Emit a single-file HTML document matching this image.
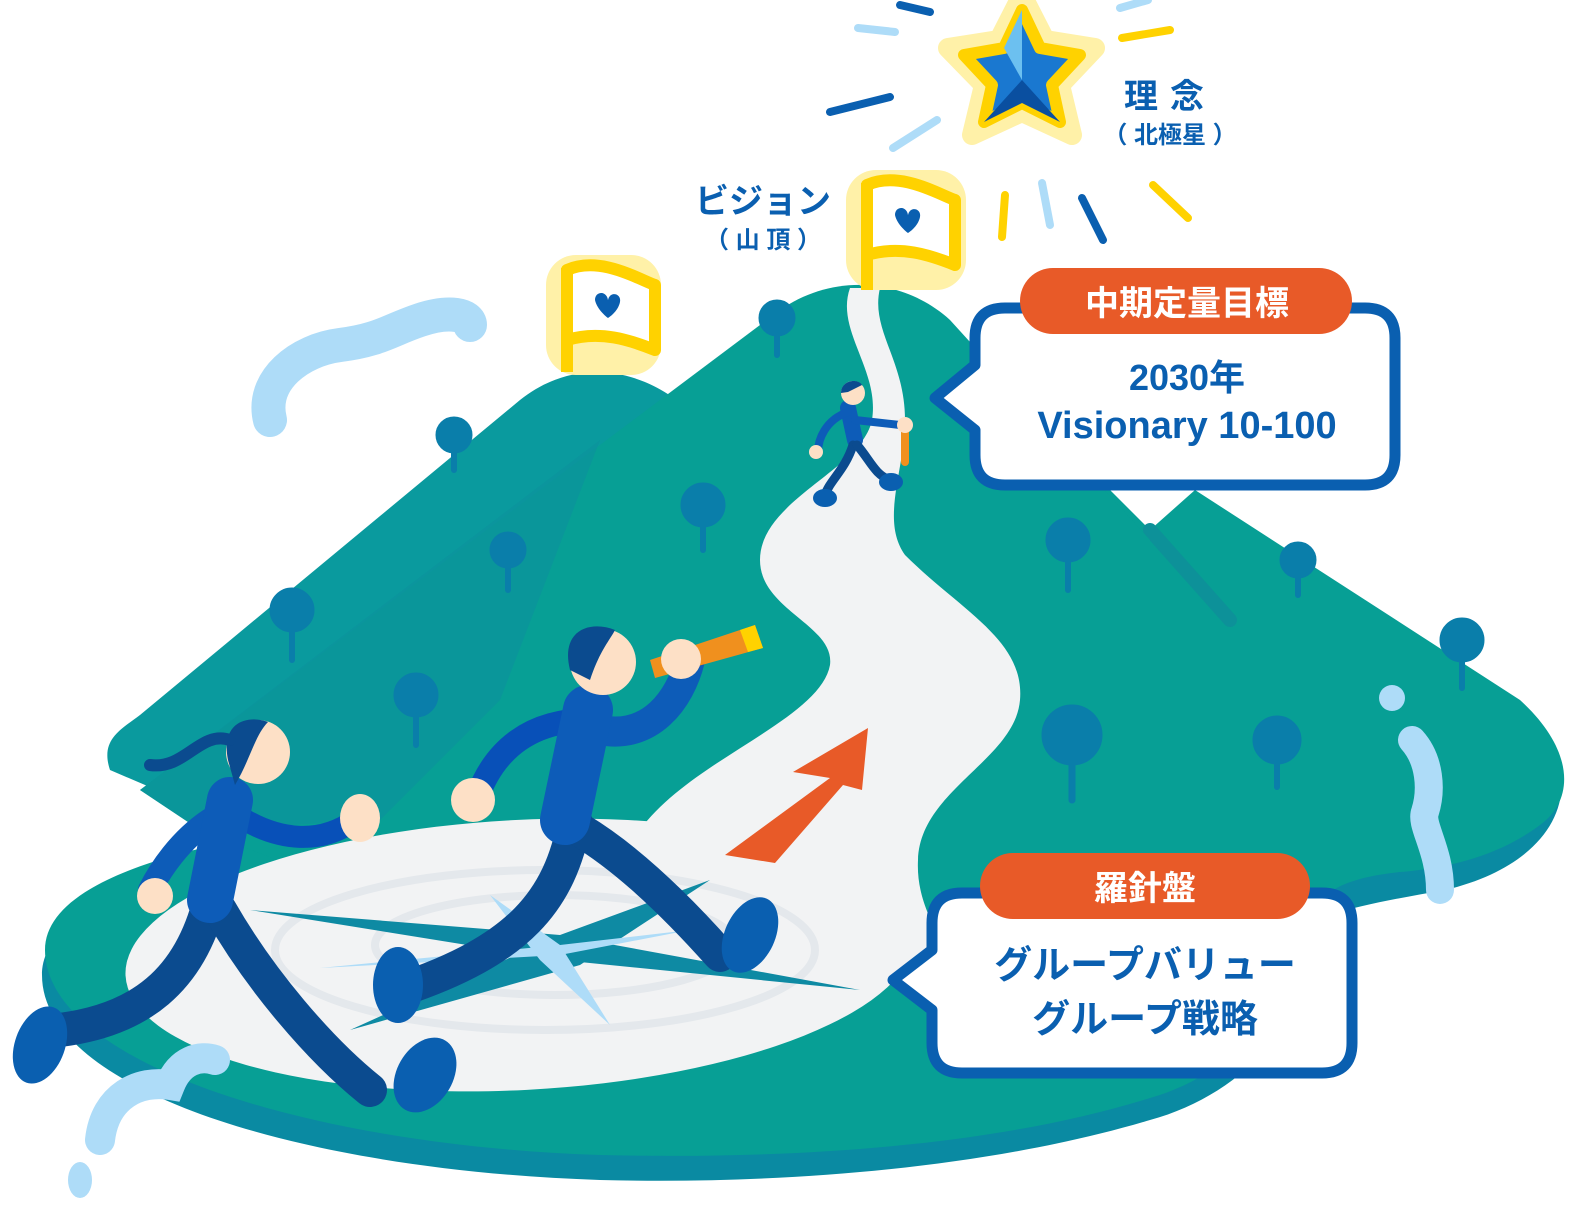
<!DOCTYPE html>
<html><head><meta charset="utf-8"><style>
html,body{margin:0;padding:0;background:#fff;}
svg{display:block}
text{font-family:"Liberation Sans","Noto Sans CJK JP",sans-serif;font-weight:bold}
</style></head><body>
<svg width="1577" height="1207" viewBox="0 0 1577 1207" xmlns="http://www.w3.org/2000/svg">
<!-- clouds / water swirls -->
<path d="M270,420 C260,380 300,350 340,345 C380,340 390,330 420,320 C450,310 470,315 470,325" fill="none" stroke="#aedcf8" stroke-width="34" stroke-linecap="round"/>
<ellipse cx="270" cy="420" rx="14" ry="16" fill="#aedcf8"/>
<!-- island base -->
<path d="M42,975 C42,860 400,815 800,815 L1310,860 C1340,990 1260,1090 1150,1120 C1000,1165 800,1185 600,1180 C300,1170 42,1090 42,975 Z" fill="#0a8aa2"/>
<path d="M45,950 C45,840 400,800 800,800 L1300,850 C1330,970 1250,1070 1150,1098 C1000,1145 800,1160 600,1155 C300,1145 45,1060 45,950 Z" fill="#079f95"/>
<!-- right mountain -->
<path d="M1560,770 C1570,820 1530,870 1445,890 C1400,898 1360,905 1330,915 L1300,880 L1500,760 Z" fill="#0a8aa2"/>
<path d="M1100,480 L1150,530 L1195,490 L1520,700 C1575,750 1575,800 1540,825 C1500,855 1450,868 1400,872 C1360,876 1340,885 1330,892 L950,900 Z" fill="#079f95"/>
<path d="M1150,530 L1230,620" stroke="#0d9199" stroke-width="14" stroke-linecap="round"/>
<!-- left mountain -->
<path d="M110,770 C100,740 120,730 140,715 L520,400 C570,360 640,360 700,420 L560,700 L250,830 Z" fill="#0a9a9e"/>
<!-- middle mountain -->
<path d="M140,790 L780,310 C830,275 900,275 950,320 L1150,540 L1150,900 L380,900 L200,830 Z" fill="#079f95"/>
<path d="M140,790 L600,440 L500,700 L380,820 L200,830 Z" fill="#0c939d" opacity="0.7"/>
<!-- road -->
<path d="M850,288 C835,330 880,370 872,420 C862,470 760,500 760,560 C760,610 835,625 830,665 C820,720 690,760 640,830 L560,830 L520,900 L950,990 C960,950 915,920 918,860 C920,790 1015,760 1020,700 C1025,640 960,610 905,555 C880,520 905,470 905,420 C905,360 870,330 880,288 Z" fill="#f2f3f4"/>
<!-- compass -->
<ellipse cx="520" cy="955" rx="395" ry="135" fill="#f2f3f4" transform="rotate(-3 520 955)"/>
<ellipse cx="545" cy="950" rx="270" ry="80" fill="none" stroke="#e4e8ec" stroke-width="8"/>
<ellipse cx="555" cy="945" rx="180" ry="50" fill="none" stroke="#e4e8ec" stroke-width="8"/>
<polygon points="250,910 560,935 860,990 560,960" fill="#0e8aa3"/>
<polygon points="350,1030 560,935 710,880 580,965" fill="#0e8aa3"/>
<polygon points="490,895 560,945 610,1025 540,960" fill="#aedcf8"/>
<polygon points="320,968 560,945 690,930 560,955" fill="#aedcf8"/>
<!-- right water -->
<path d="M1412,740 C1430,760 1432,790 1425,812 C1420,825 1440,850 1440,890" fill="none" stroke="#aedcf8" stroke-width="28" stroke-linecap="round"/>
<circle cx="1392" cy="698" r="13" fill="#aedcf8"/>
<!-- trees -->
<g fill="#0a7eaa" stroke="#0a7eaa" stroke-linecap="round">
<circle cx="777" cy="318" r="18"/><line x1="777" y1="320" x2="777" y2="355" stroke-width="6"/>
<circle cx="454" cy="435" r="18"/><line x1="454" y1="440" x2="454" y2="470" stroke-width="6"/>
<circle cx="703" cy="505" r="22"/><line x1="703" y1="510" x2="703" y2="550" stroke-width="6"/>
<circle cx="508" cy="550" r="18"/><line x1="508" y1="555" x2="508" y2="590" stroke-width="6"/>
<circle cx="292" cy="610" r="22"/><line x1="292" y1="615" x2="292" y2="660" stroke-width="6"/>
<circle cx="416" cy="695" r="22"/><line x1="416" y1="700" x2="416" y2="745" stroke-width="6"/>
<circle cx="1068" cy="540" r="22"/><line x1="1068" y1="545" x2="1068" y2="590" stroke-width="6"/>
<circle cx="1298" cy="560" r="18"/><line x1="1298" y1="565" x2="1298" y2="595" stroke-width="6"/>
<circle cx="1462" cy="640" r="22"/><line x1="1462" y1="645" x2="1462" y2="688" stroke-width="6"/>
<circle cx="1072" cy="735" r="30"/><line x1="1072" y1="740" x2="1072" y2="800" stroke-width="7"/>
<circle cx="1277" cy="740" r="24"/><line x1="1277" y1="745" x2="1277" y2="787" stroke-width="6"/>
</g>
<!-- water bottom-left -->
<path d="M100,1140 C105,1095 140,1080 170,1085 C180,1060 200,1055 215,1060" fill="none" stroke="#aedcf8" stroke-width="30" stroke-linecap="round"/>
<ellipse cx="80" cy="1180" rx="12" ry="18" fill="#aedcf8"/>
<!-- flags -->
<g>
<rect x="546" y="255" width="115" height="120" rx="30" fill="#fff1a8"/>
<path d="M567,270 C600,255 640,280 655,285 L655,350 C630,340 600,330 567,340 Z" fill="#fff" stroke="#ffd200" stroke-width="12" stroke-linejoin="round"/>
<line x1="567" y1="268" x2="567" y2="372" stroke="#ffd200" stroke-width="12"/>
<path d="M595,300 C595,290 610,290 608,305 C606,290 622,292 620,302 C618,312 608,318 608,318 C608,318 597,310 595,300 Z" fill="#0a5fb0"/>
<rect x="846" y="170" width="120" height="120" rx="30" fill="#fff1a8"/>
<path d="M867,185 C900,170 940,195 955,200 L955,265 C930,255 900,245 867,255 Z" fill="#fff" stroke="#ffd200" stroke-width="12" stroke-linejoin="round"/>
<line x1="867" y1="183" x2="867" y2="290" stroke="#ffd200" stroke-width="12"/>
<path d="M895,215 C895,205 910,205 908,220 C906,205 922,207 920,217 C918,227 908,233 908,233 C908,233 897,225 895,215 Z" fill="#0a5fb0"/>
</g>
<!-- star -->
<polygon points="1022,-5 1045,40 1095,48 1060,85 1072,135 1022,112 972,135 984,85 948,48 999,40" fill="#fff1a8" stroke="#fff1a8" stroke-width="20" stroke-linejoin="round"/>
<polygon points="1022,10 1040,48 1080,55 1052,85 1060,122 1022,103 984,122 992,85 964,55 1004,48" fill="#1a78d0" stroke="#ffd200" stroke-width="12" stroke-linejoin="round"/>
<polygon points="1022,10 1022,80 1004,48" fill="#6cc0f0"/>
<polygon points="1022,80 1060,122 1022,103 984,122" fill="#0a4fa0"/>
<!-- rays -->
<g stroke-linecap="round" stroke-width="8">
<line x1="900" y1="5" x2="930" y2="12" stroke="#0a5fb0"/>
<line x1="858" y1="28" x2="895" y2="32" stroke="#aedcf8"/>
<line x1="830" y1="112" x2="890" y2="97" stroke="#0a5fb0"/>
<line x1="893" y1="148" x2="937" y2="120" stroke="#aedcf8"/>
<line x1="1120" y1="8" x2="1148" y2="0" stroke="#aedcf8"/>
<line x1="1122" y1="38" x2="1170" y2="30" stroke="#ffd200"/>
<line x1="1005" y1="195" x2="1002" y2="237" stroke="#ffd200"/>
<line x1="1042" y1="183" x2="1050" y2="225" stroke="#aedcf8"/>
<line x1="1082" y1="198" x2="1103" y2="240" stroke="#0a5fb0"/>
<line x1="1153" y1="185" x2="1188" y2="218" stroke="#ffd200"/>
</g>
<!-- labels -->
<text x="1170" y="108" font-size="34" fill="#0a5fb0" text-anchor="middle" letter-spacing="12">理念</text>
<text x="1170" y="143" font-size="24" fill="#0a5fb0" text-anchor="middle">（ 北極星 ）</text>
<text x="763" y="213" font-size="34" fill="#0a5fb0" text-anchor="middle">ビジョン</text>
<text x="763" y="248" font-size="24" fill="#0a5fb0" text-anchor="middle">（ 山 頂 ）</text>
<!-- small climber -->
<g stroke-linecap="round" fill="none">
<path d="M848,408 L855,440" stroke="#0d5cb8" stroke-width="16"/>
<path d="M848,412 C825,420 818,440 818,452" stroke="#0d5cb8" stroke-width="8"/>
<path d="M855,420 L900,425" stroke="#0d5cb8" stroke-width="8"/>
<path d="M853,445 C845,470 830,480 825,495" stroke="#0b4b8f" stroke-width="9"/>
<path d="M857,445 C870,460 875,475 890,480" stroke="#0b4b8f" stroke-width="9"/>
<line x1="905" y1="430" x2="905" y2="462" stroke="#f0901e" stroke-width="8"/>
</g>
<circle cx="853" cy="393" r="12" fill="#fde0c6"/>
<path d="M841,393 C841,380 858,378 862,385 L848,392 Z" fill="#0b4b8f"/>
<circle cx="905" cy="425" r="8" fill="#fde0c6"/>
<circle cx="816" cy="452" r="7" fill="#fde0c6"/>
<ellipse cx="825" cy="498" rx="12" ry="9" fill="#0a5fb0"/>
<ellipse cx="891" cy="482" rx="12" ry="9" fill="#0a5fb0"/>
<!-- orange arrow -->
<polygon points="725,855 830,778 793,772 868,728 862,790 843,785 775,863" fill="#e85a28"/>
<!-- man -->
<g stroke-linecap="round" fill="none">
<path d="M575,820 C560,900 520,950 400,990" stroke="#0b4b8f" stroke-width="34"/>
<path d="M580,830 C630,860 680,910 720,955" stroke="#0b4b8f" stroke-width="34"/>
<path d="M590,720 C530,720 495,750 478,795" stroke="#0850b8" stroke-width="24"/>
<path d="M600,730 C650,740 680,700 690,660" stroke="#0d5cb8" stroke-width="30"/>
<path d="M588,710 L565,820" stroke="#0d5cb8" stroke-width="50"/>
</g>
<polygon points="650,660 755,625 763,648 655,678" fill="#f0901e"/>
<polygon points="740,630 755,625 763,648 748,652" fill="#ffd200"/>
<circle cx="603" cy="662" r="33" fill="#fde0c6"/>
<path d="M570,670 C560,630 590,620 615,630 C610,640 600,650 590,680 Z" fill="#0b4b8f"/>
<circle cx="681" cy="659" r="20" fill="#fde0c6"/>
<circle cx="473" cy="800" r="22" fill="#fde0c6"/>
<ellipse cx="398" cy="985" rx="25" ry="38" fill="#0a5fb0"/>
<ellipse cx="750" cy="935" rx="25" ry="40" fill="#0a5fb0" transform="rotate(25 750 935)"/>
<!-- woman -->
<g stroke-linecap="round" fill="none">
<path d="M210,900 C190,980 140,1020 60,1030" stroke="#0b4b8f" stroke-width="34"/>
<path d="M220,910 C260,980 320,1050 370,1090" stroke="#0b4b8f" stroke-width="34"/>
<path d="M210,820 C180,840 160,870 150,890" stroke="#0d5cb8" stroke-width="24"/>
<path d="M245,820 C280,840 320,845 355,820" stroke="#0850b8" stroke-width="22"/>
<path d="M230,800 L210,900" stroke="#0d5cb8" stroke-width="46"/>
</g>
<circle cx="258" cy="752" r="32" fill="#fde0c6"/>
<path d="M228,760 C220,720 250,715 268,722 C255,735 250,760 235,785 Z" fill="#0b4b8f"/>
<path d="M230,740 C200,730 185,770 150,765" stroke="#0b4b8f" stroke-width="12" fill="none" stroke-linecap="round"/>
<circle cx="155" cy="896" r="18" fill="#fde0c6"/>
<ellipse cx="360" cy="818" rx="20" ry="24" fill="#fde0c6"/>
<ellipse cx="40" cy="1045" rx="25" ry="40" fill="#0a5fb0" transform="rotate(20 40 1045)"/>
<ellipse cx="425" cy="1075" rx="28" ry="40" fill="#0a5fb0" transform="rotate(30 425 1075)"/>
<!-- callout 1 -->
<path d="M1005,308 L1365,308 Q1395,308 1395,338 L1395,455 Q1395,485 1365,485 L1005,485 Q975,485 975,455 L975,430 L935,398 L975,365 L975,338 Q975,308 1005,308 Z" fill="#fff" stroke="#0a5fb0" stroke-width="11" stroke-linejoin="round"/>
<rect x="1020" y="268" width="332" height="66" rx="33" fill="#e85a28"/>
<text x="1187" y="315" font-size="34" fill="#fff" text-anchor="middle">中期定量目標</text>
<text x="1187" y="390" font-size="36" fill="#0a5fb0" text-anchor="middle">2030年</text>
<text x="1187" y="438" font-size="38" fill="#0a5fb0" text-anchor="middle">Visionary 10-100</text>
<!-- callout 2 -->
<path d="M962,893 L1322,893 Q1352,893 1352,923 L1352,1043 Q1352,1073 1322,1073 L962,1073 Q932,1073 932,1043 L932,1010 L893,980 L932,950 L932,923 Q932,893 962,893 Z" fill="#fff" stroke="#0a5fb0" stroke-width="11" stroke-linejoin="round"/>
<rect x="980" y="853" width="330" height="66" rx="33" fill="#e85a28"/>
<text x="1145" y="900" font-size="34" fill="#fff" text-anchor="middle">羅針盤</text>
<text x="1145" y="978" font-size="38" fill="#0a5fb0" text-anchor="middle">グループバリュー</text>
<text x="1145" y="1032" font-size="38" fill="#0a5fb0" text-anchor="middle">グループ戦略</text>
</svg>
</body></html>
